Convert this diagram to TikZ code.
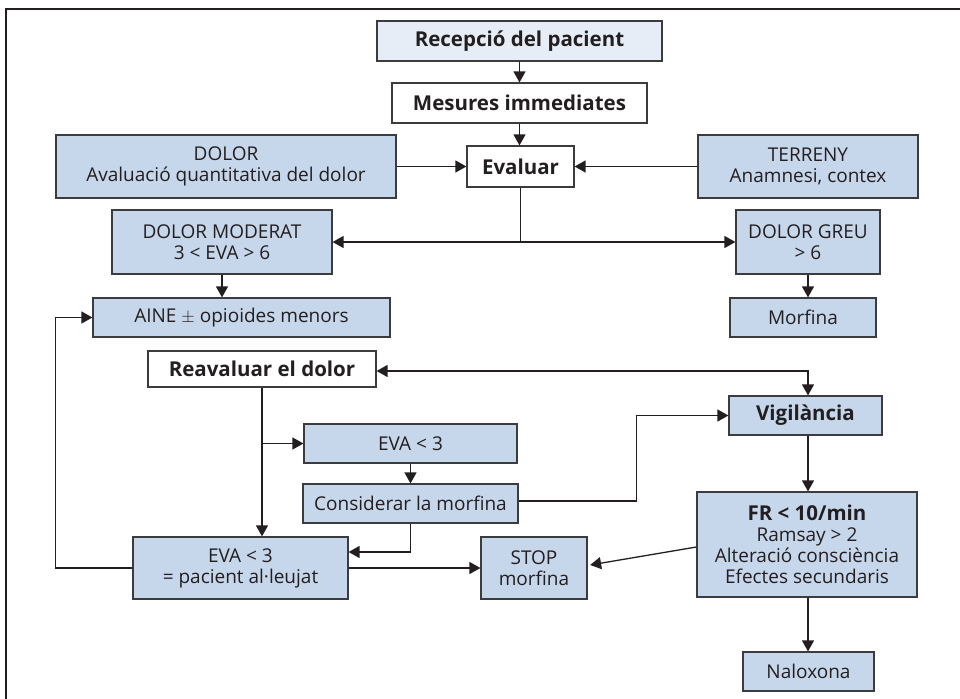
\documentclass[tikz,border=0pt]{standalone}
\usepackage{fontspec}
\setmainfont{Open Sans}
\usetikzlibrary{arrows.meta,calc}
\definecolor{boxblue}{RGB}{198,214,235}
\definecolor{boxpale}{RGB}{231,237,247}
\definecolor{ink}{RGB}{35,31,32}
\definecolor{edge}{RGB}{60,60,62}
\newcommand{\regfont}{\fontsize{19}{21}\selectfont}
\newcommand{\boldfont}{\fontsize{20.5}{21}\selectfont\bfseries}
\tikzset{
  base/.style={draw=edge,line width=1.2pt,text=ink,align=center,inner sep=0pt,
    font=\regfont},
  bluebox/.style={base,fill=boxblue},
  whitebox/.style={base,fill=white,font=\boldfont},
  palebox/.style={base,fill=boxpale,font=\boldfont},
  conn/.style={draw=ink,line width=1.3pt},
  arr/.style={conn,-{Triangle[length=11pt,width=12pt]}},
  dblarr/.style={conn,{Triangle[length=11pt,width=12pt]}-{Triangle[length=11pt,width=12pt]}},
  frame/.style={draw=ink,line width=2.6pt}
}
\begin{document}
\begin{tikzpicture}[x=1pt,y=-1pt]
\useasboundingbox (0,0) rectangle (960,698);
% outer frame
\draw[frame] (962,9) -- (6,9) -- (6,700);

% boxes
\node[palebox,minimum width=285pt,minimum height=40pt] (rec) at (519.5,41) {Recepció del pacient};
\node[whitebox,minimum width=255pt,minimum height=40pt] (mes) at (519.5,103) {Mesures immediates};
\node[bluebox,minimum width=340pt,minimum height=63pt] (dol) at (226,166.5) {DOLOR\\Avaluació quantitativa del dolor};
\node[whitebox,minimum width=107pt,minimum height=41pt] (eva) at (520.5,166.5) {Evaluar};
\node[bluebox,minimum width=220pt,minimum height=63pt] (ter) at (808,166.5) {TERRENY\\Anamnesi, contex};
\node[bluebox,minimum width=220pt,minimum height=64pt] (mod) at (222,242) {DOLOR MODERAT\\3 < EVA > 6};
\node[bluebox,minimum width=144pt,minimum height=64pt] (greu) at (808,242) {DOLOR GREU\\> 6};
\node[bluebox,minimum width=297pt,minimum height=39pt] (aine) at (241.5,317.5) {AINE $\pm$ opioides menors};
\node[bluebox,minimum width=146pt,minimum height=39pt] (morf) at (803,317.5) {Morfina};
\node[whitebox,minimum width=228pt,minimum height=36pt] (reav) at (262,369) {Reavaluar el dolor};
\node[bluebox,minimum width=153pt,minimum height=39pt,font=\boldfont] (vig) at (805.5,415.5) {Vigilància};
\node[bluebox,minimum width=213pt,minimum height=39pt] (low) at (410.5,443.5) {EVA < 3};
\node[bluebox,minimum width=215pt,minimum height=39pt] (cons) at (410.5,503.5) {Considerar la morfina};
\node[bluebox,minimum width=215pt,minimum height=62pt] (pac) at (240.5,568) {EVA < 3\\= pacient al·leujat};
\node[bluebox,minimum width=106pt,minimum height=62pt] (stop) at (534,568) {STOP\\morfina};
\node[bluebox,minimum width=220pt,minimum height=105pt] (fr) at (807,544.5)
  {{\boldfont FR < 10/min}\\Ramsay > 2\\Alteració consciència\\Efectes secundaris};
\node[bluebox,minimum width=131pt,minimum height=39pt] (nal) at (808.5,671.5) {Naloxona};

% connectors
\draw[arr] (rec) -- (mes);
\draw[arr] (mes.south) -- (mes.south |- eva.north);
\draw[arr] (dol) -- (eva);
\draw[arr] (ter) -- (eva);
\coordinate (split) at (eva.south |- mod.east);
\draw[conn] (eva.south) -- (split);
\draw[arr] (split) -- (mod.east);
\draw[arr] (split) -- (greu.west);
\draw[arr] (mod.south) -- (mod.south |- aine.north);
\draw[arr] (greu.south) -- (greu.south |- morf.north);
\coordinate (vtop) at ($(vig.north)+(2.5,0)$);
\draw[dblarr] ($(reav.east)+(0,2)$) -| (vtop);
\draw[arr] (reav.south) -- (reav.south |- pac.north);
\draw[arr] (reav.south |- low.west) -- (low.west);
\draw[arr] (low.south) -- (cons.north);
\draw[arr] ($(cons.east)+(0,-2.5)$) -- ++(118,0) |- (vig.west);
\draw[arr] (cons.south) |- ($(pac.east)+(0,-16)$);
\draw[arr] (pac.west) -- ++(-77,0) |- (aine.west);
\draw[arr] (pac.east) -- (stop.west);
\draw[arr] ($(fr.west)+(0,2.5)$) -- ($(stop.east)+(2.5,-3)$);
\draw[arr] (vig.south -| vtop) -- (fr.north -| vtop);
\draw[arr] (fr.south -| vtop) -- (nal.north -| vtop);
\end{tikzpicture}
\end{document}
